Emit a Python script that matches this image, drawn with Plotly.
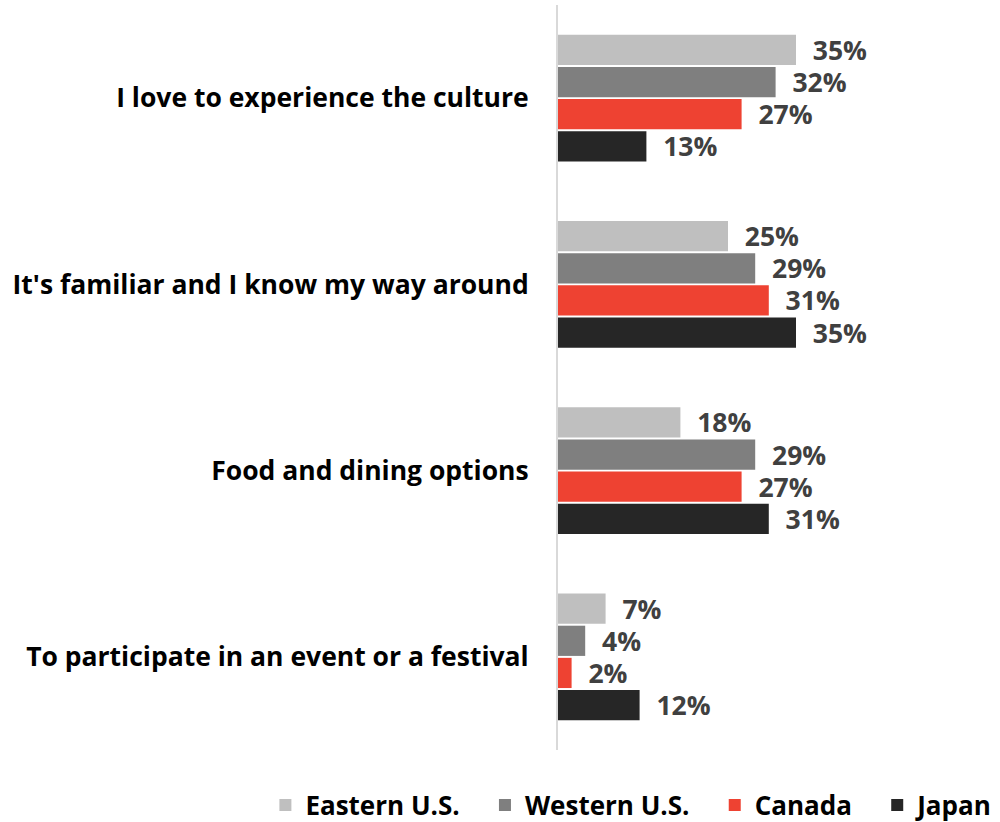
import plotly.graph_objects as go

categories = [
    "I love to experience the culture",
    "It's familiar and I know my way around",
    "Food and dining options",
    "To participate in an event or a festival",
]
series_names = ["Eastern U.S.", "Western U.S.", "Canada", "Japan"]
eastern_us = [35, 25, 18, 7]
western_us = [32, 29, 29, 4]
canada = [27, 31, 27, 2]
japan = [13, 35, 31, 12]
colors = ["#BFBFBF", "#7F7F7F", "#EE4232", "#262626"]

FONT = "'Open Sans', sans-serif"
# extra non-breaking spaces widen the gap between legend entries
PAD = "\u00a0\u00a0\u00a0"

fig = go.Figure()
for i, (name, vals, col) in enumerate(zip(series_names, [eastern_us, western_us, canada, japan], colors)):
    fig.add_trace(go.Bar(
        y=categories,
        x=vals,
        name=name + (PAD if i < len(series_names) - 1 else ""),
        orientation="h",
        marker=dict(color=col, line=dict(width=0)),
        texttemplate="\u00a0\u00a0%{x}%",
        textposition="outside",
        constraintext="none",
        textfont=dict(family=FONT, size=26.5, color="#404040", weight="bold"),
        cliponaxis=False,
    ))

fig.update_layout(
    width=1000,
    height=822,
    margin=dict(l=558, r=0, t=5, b=72, autoexpand=False),
    paper_bgcolor="white",
    plot_bgcolor="white",
    barmode="group",
    bargap=0.31,
    bargroupgap=0.06,
    font=dict(family=FONT, color="#000000"),
    showlegend=True,
    legend=dict(
        orientation="h",
        xref="paper",
        yref="paper",
        x=-0.662,
        xanchor="left",
        y=-0.074,
        yanchor="middle",
        font=dict(family=FONT, size=26, color="#000000", weight="bold"),
        itemwidth=30,
        traceorder="normal",
    ),
    xaxis=dict(
        range=[0, 65],
        showgrid=False,
        zeroline=False,
        showticklabels=False,
        showline=False,
        ticks="",
    ),
    yaxis=dict(
        autorange="reversed",
        showgrid=False,
        zeroline=False,
        showline=True,
        linecolor="#D9D9D9",
        linewidth=2,
        ticks="",
        ticklabelstandoff=22,
        tickfont=dict(family=FONT, size=26.5, color="#000000", weight="bold"),
    ),
)

fig.write_html("out.html")
